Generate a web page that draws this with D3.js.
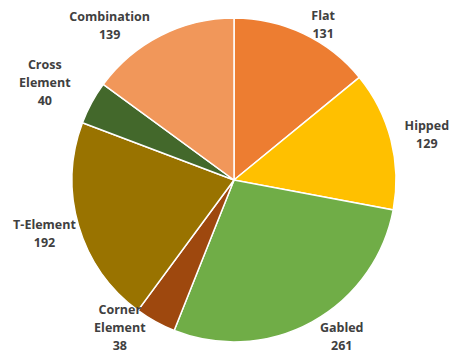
<!DOCTYPE html>
<html>
<head>
<meta charset="utf-8">
<script src="https://cdn.jsdelivr.net/npm/d3@7/dist/d3.min.js"></script>
<style>
  body { margin: 0; background: #fff; }
  svg { display: block; }
  .lbl { font-family: "Open Sans", sans-serif; font-weight: bold; font-size: 12.5px; fill: #404040; }
</style>
</head>
<body>
<div id="chart"></div>
<script>
var categories = ["Flat", "Hipped", "Gabled", "Corner Element", "T-Element", "Cross Element", "Combination"]
var counts = [131, 129, 261, 38, 192, 40, 139]
// label text lines as they wrap in the picture
var labelLines = [["Flat"], ["Hipped"], ["Gabled"], ["Corner", "Element"], ["T-Element"], ["Cross", "Element"], ["Combination"]]

var colors = ["#ED7D31", "#FFC000", "#70AD47", "#9E480E", "#997300", "#43682B", "#F1975A"]

// where each label sits: angle shift from slice middle (deg) and distance from centre
var labelShift = [4.5, 1.2, -5.7, 8.6, 0.6, -1.1, -12]
var labelDist = [179, 198, 190, 187, 197, 213, 198]

var width = 450, height = 354
var cx = 234, cy = 180, radius = 162

var svg = d3.select("#chart").append("svg")
    .attr("width", width)
    .attr("height", height)

var g = svg.append("g")
    .attr("transform", "translate(" + cx + "," + cy + ")")

var data = categories.map(function (c, i) {
    return {name: c, value: counts[i], lines: labelLines[i], i: i}
})

var pie = d3.pie()
    .sort(null)
    .value(function (d) { return d.value })

var arc = d3.arc()
    .innerRadius(0)
    .outerRadius(radius)

var arcs = pie(data)

g.selectAll("path.slice")
    .data(arcs)
    .enter().append("path")
    .attr("class", "slice")
    .attr("d", arc)
    .style("fill", function (d) { return colors[d.data.i] })
    .style("stroke", "#fff")
    .style("stroke-width", 1.5)

var lineH = 18

var labels = g.selectAll("text.lbl")
    .data(arcs)
    .enter().append("text")
    .attr("class", "lbl")
    .attr("text-anchor", "middle")
    .attr("transform", function (d) {
        var i = d.data.i
        var a = (d.startAngle + d.endAngle) / 2 + labelShift[i] * Math.PI / 180
        var r = labelDist[i]
        return "translate(" + (r * Math.sin(a)) + "," + (-r * Math.cos(a)) + ")"
    })

labels.each(function (d) {
    var t = d3.select(this)
    var lines = d.data.lines.concat([String(d.data.value)])
    var n = lines.length
    lines.forEach(function (s, k) {
        t.append("tspan")
            .attr("x", 0)
            .attr("y", (k - (n - 1) / 2) * lineH)
            .attr("dy", "0.35em")
            .text(s)
    })
})
</script>
</body>
</html>
